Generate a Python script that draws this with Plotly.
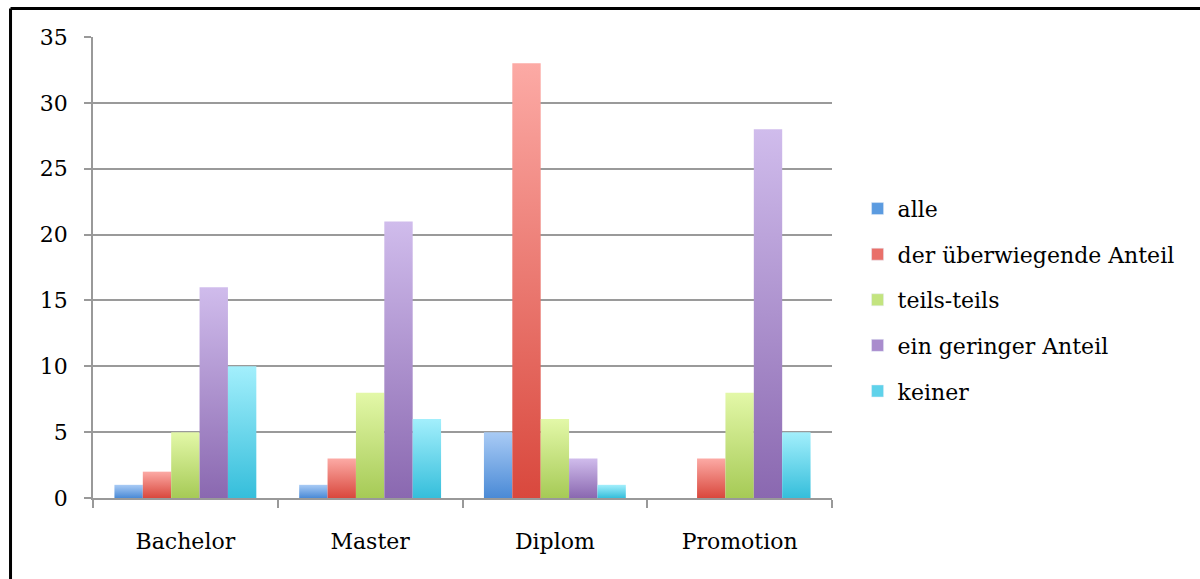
import plotly.graph_objects as go

categories = ["Bachelor", "Master", "Diplom", "Promotion"]
series_names = ["alle", "der überwiegende Anteil", "teils-teils", "ein geringer Anteil", "keiner"]
alle = [1, 1, 5, 0]
ueberwiegend = [2, 3, 33, 3]
teils = [5, 8, 6, 8]
gering = [16, 21, 3, 28]
keiner = [10, 6, 1, 5]
y_ticks = [0, 5, 10, 15, 20, 25, 30, 35]

series_values = [alle, ueberwiegend, teils, gering, keiner]
# (dark bottom, light top)
grad = [
    ("#4a8ad6", "#a9cbf5"),
    ("#d9483d", "#fcaaa5"),
    ("#a6ca56", "#e3f8a8"),
    ("#8a68b0", "#d0bcec"),
    ("#35bedb", "#a3effc"),
]
legend_colors = ["#5b9be0", "#e9706a", "#c3e47f", "#a98ccd", "#5fd2ea"]

FONT = "DejaVu Serif"
group_width = 0.768
n = len(series_values)
bw = group_width / n

fig = go.Figure()
for j, (name, vals) in enumerate(zip(series_names, series_values)):
    # legend proxy
    fig.add_trace(go.Bar(x=[None], y=[None], name=name, marker_color=legend_colors[j],
                         legendgroup=name, showlegend=True))
    for i, v in enumerate(vals):
        if v <= 0:
            continue
        x0 = i - group_width / 2 + j * bw
        x1 = x0 + bw
        fig.add_trace(go.Scatter(
            x=[x0, x1, x1, x0, x0], y=[0, 0, v, v, 0],
            mode="lines", line=dict(width=0), fill="toself",
            fillgradient=dict(type="vertical", start=0, stop=v,
                              colorscale=[[0, grad[j][0]], [1, grad[j][1]]]),
            legendgroup=name, showlegend=False, hoverinfo="skip"))

cat_idx = list(range(len(categories)))
fig.update_layout(
    width=1200, height=579,
    margin=dict(l=93, r=368, t=37, b=81),
    paper_bgcolor="white", plot_bgcolor="white",
    font=dict(family=FONT, color="#000", size=20),
    showlegend=True,
    legend=dict(x=1.0346, y=0.43, xanchor="left", yanchor="middle",
                font=dict(family=FONT, size=22, color="#000"),
                tracegroupgap=14, itemwidth=30, traceorder="grouped",
                bgcolor="rgba(0,0,0,0)"),
    xaxis=dict(range=[-0.5, len(categories) - 0.5], tickmode="array",
               tickvals=cat_idx, ticktext=categories, ticks="",
               showgrid=False, zeroline=False, showline=True,
               linecolor="#999", linewidth=1.5,
               tickfont=dict(family=FONT, size=22, color="#000"),
               ticklabelstandoff=23,
               minor=dict(tickmode="array",
                          tickvals=[i - 0.5 for i in range(len(categories) + 1)],
                          ticks="outside", ticklen=8, tickcolor="#999", tickwidth=1.5,
                          showgrid=False)),
    yaxis=dict(range=[0, 35], tickmode="array", tickvals=y_ticks,
               ticks="outside", ticklen=7, tickcolor="#999", tickwidth=1.5,
               showgrid=True, gridcolor="#9a9a9a", gridwidth=1.5,
               zeroline=False, showline=True, linecolor="#999", linewidth=1.5,
               tickfont=dict(family=FONT, size=22, color="#000"),
               ticklabelstandoff=12),
)

# outer frame (top and left edges visible)
fig.add_shape(type="line", xref="paper", yref="paper",
              x0=-0.1116, x1=1.6, y0=1.0618, y1=1.0618,
              line=dict(color="black", width=3))
fig.add_shape(type="line", xref="paper", yref="paper",
              x0=-0.1116, x1=-0.1116, y0=-0.3, y1=1.0618,
              line=dict(color="black", width=3))

fig.write_html("out.html")
